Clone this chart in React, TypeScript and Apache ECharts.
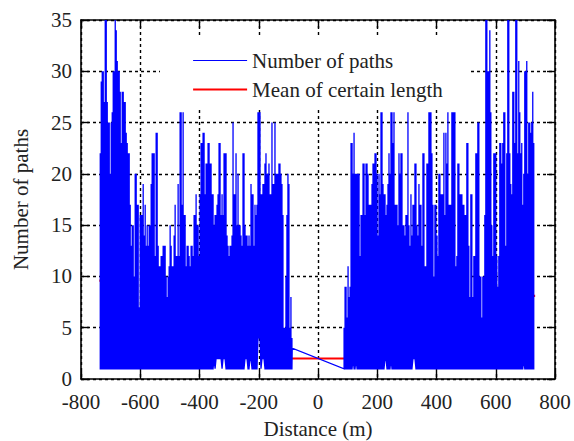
import React, { useEffect, useRef } from "react";
import * as echarts from "echarts";

const xTicks = { min: -800, max: 800, interval: 200 };
const yTicks = { min: 0, max: 35, interval: 5 };
const columnStep = 3.37;
const leftStart = -735;
const rightStart = 88;

const leftPeaks = [
  22,29,30,30,27,35,35,27,25,25,20,25,26,30,30,35,34,31,30,30,28,23,28,28,27,27,24,23,22,22,
  17,13,15,15,10,20,20,17,17,7,16,16,16,19,14,17,13,15,13,15,15,19,22,22,22,12,24,24,13,11,
  11,12,12,13,13,13,10,8,10,11,15,13,11,11,14,17,12,12,19,12,26,26,17,26,16,16,11,13,13,12,
  11,13,13,12,16,16,18,15,15,12,18,23,23,24,24,18,21,21,23,23,21,21,18,18,15,16,16,17,18,23,
  23,16,18,16,22,22,22,14,13,12,13,13,14,25,18,18,22,15,20,15,15,14,13,22,22,15,14,14,13,14,
  13,19,18,18,13,17,16,17,26,26,26,18,18,19,19,21,22,20,20,21,18,18,25,19,19,25,20,20,20,21,
  21,20,19,16,5,5,10,16,20,19,5,8,4,
];
const leftLow2Columns = [114,116,117,118,119,120,121,123,124,125,145,146,147,150,151,162,163,164];
const leftLow4Columns = [158,159,160];

const rightPeaks = [
  5,9,9,6,11,8,9,23,23,20,24,20,20,20,20,20,12,16,16,21,21,16,21,21,20,17,17,17,19,21,
  21,22,22,20,14,20,18,26,26,19,18,18,16,17,19,22,20,26,26,23,26,17,17,17,15,22,20,22,22,15,
  15,14,16,16,26,15,13,18,14,17,17,21,21,15,14,19,17,17,13,22,22,11,11,21,21,26,26,26,22,17,
  10,17,17,14,12,20,20,18,18,18,24,16,24,21,26,17,17,17,26,26,26,26,11,12,21,21,18,18,18,17,
  17,16,16,23,23,13,8,18,18,8,12,12,22,22,25,25,10,10,6,10,10,16,35,35,30,30,34,26,15,12,
  22,22,22,12,9,12,23,23,21,23,26,26,13,22,35,35,22,19,18,28,28,23,35,35,22,31,26,22,23,17,
  20,30,30,31,20,25,25,24,25,28,23,
];
const rightLow2Columns = [9,12,41,42,47,69,70,71,180];

const meanDistance = [-738, -735, null, -88, 88, null, 700, 733];
const meanPaths = [9.6, 9.6, null, 2, 2, null, 8.1, 8.1];
const bridgeDistance = [-87, 88];
const bridgePaths = [3, 1];

function zigzag(peaks: number[], start: number, low2: number[], low4: number[]) {
  const pts: number[][] = [];
  peaks.forEach((p, i) => {
    const x = start + i * columnStep;
    const low = low4.includes(i) ? 4 : low2.includes(i) ? 2 : 1;
    pts.push([x, low], [x, p], [x, low]);
  });
  return pts;
}

const serif = '"Liberation Serif", "Times New Roman", serif';
const textColor = "#222";
const fontSize = 21;

export default function App() {
  const ref = useRef<HTMLDivElement>(null);
  useEffect(() => {
    document.body.style.margin = "0";
    const chart = echarts.init(ref.current!, undefined, { renderer: "svg" });
    const blue = [
      ...zigzag(leftPeaks, leftStart, leftLow2Columns, leftLow4Columns),
      [bridgeDistance[0], bridgePaths[0]],
      [bridgeDistance[1], bridgePaths[1]],
      ...zigzag(rightPeaks, rightStart, rightLow2Columns, []),
    ];
    const axisLine = { show: true, onZero: false, lineStyle: { color: "#000", width: 1.6 } };
    const tick = { show: true, inside: true, length: 8, lineStyle: { color: "#000", width: 1.4 } };
    chart.setOption({
      animation: false,
      backgroundColor: "#fff",
      textStyle: { fontFamily: serif },
      grid: { left: 81, right: 19, top: 20, bottom: 62, containLabel: false, outerBoundsMode: "none" },
      legend: {
        orient: "vertical",
        left: 160,
        top: 38,
        padding: [12, 28, 8, 32],
        itemGap: 8,
        itemWidth: 54,
        itemHeight: 21,
        backgroundColor: "#fff",
        itemStyle: { opacity: 0 },
        data: [
          { name: "Number of paths", lineStyle: { width: 1 } },
          { name: "Mean of certain length", lineStyle: { width: 2.2 } },
        ],
        textStyle: { fontFamily: serif, fontSize, color: textColor },
        z: 20,
      },
      xAxis: [
        {
          type: "value",
          ...xTicks,
          name: "Distance (m)",
          nameLocation: "middle",
          nameGap: 39,
          nameTextStyle: { fontFamily: serif, fontSize, color: textColor },
          axisLine,
          axisTick: tick,
          axisLabel: { fontFamily: serif, fontSize, color: textColor, margin: 12, hideOverlap: false },
          splitLine: { show: true, lineStyle: { color: "#000", width: 1.4, type: [3, 3] } },
        },
        {
          type: "value",
          position: "top",
          ...xTicks,
          axisLine,
          axisTick: tick,
          axisLabel: { show: false },
          splitLine: { show: false },
        },
      ],
      yAxis: [
        {
          type: "value",
          ...yTicks,
          name: "Number of paths",
          nameLocation: "middle",
          nameGap: 50,
          nameTextStyle: { fontFamily: serif, fontSize, color: textColor },
          axisLine,
          axisTick: tick,
          axisLabel: { fontFamily: serif, fontSize, color: textColor, margin: 9, hideOverlap: false },
          splitLine: { show: true, lineStyle: { color: "#000", width: 1.4, type: [3, 3] } },
        },
        {
          type: "value",
          position: "right",
          ...yTicks,
          axisLine,
          axisTick: tick,
          axisLabel: { show: false },
          splitLine: { show: false },
        },
      ],
      series: [
        {
          name: "Mean of certain length",
          type: "line",
          showSymbol: false,
          symbol: "none",
          z: 3,
          connectNulls: false,
          lineStyle: { color: "#f00", width: 2.2 },
          itemStyle: { color: "#f00" },
          data: meanDistance.map((d, i) => (d === null ? [null, null] : [d, meanPaths[i]])),
        },
        {
          name: "Number of paths",
          type: "line",
          showSymbol: false,
          symbol: "none",
          z: 4,
          lineStyle: { color: "#0000ff", width: 1.3, join: "miter" },
          itemStyle: { color: "#0000ff" },
          data: blue,
        },
      ],
    });
    return () => chart.dispose();
  }, []);
  return <div ref={ref} style={{ width: 574, height: 441 }} />;
}
